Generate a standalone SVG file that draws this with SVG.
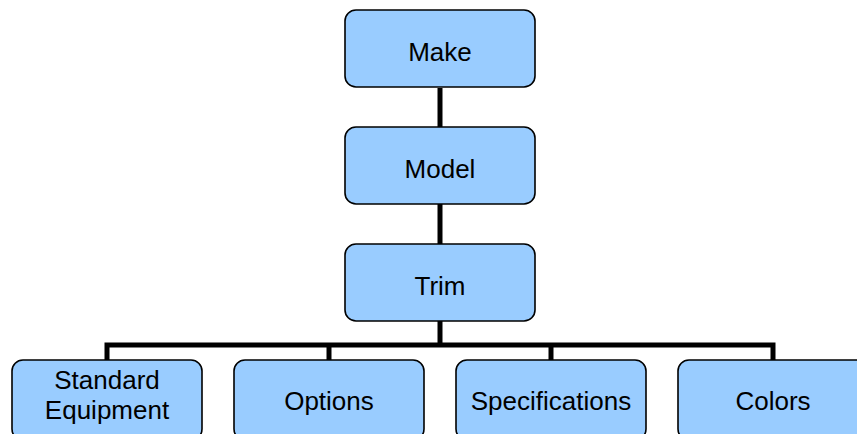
<svg xmlns="http://www.w3.org/2000/svg" width="857" height="434" viewBox="0 0 857 434">
<style>
.box{fill:#99CCFF;stroke:#000;stroke-width:1.6}
.lbl{font-family:"Liberation Sans",Arial,sans-serif;font-size:26px;fill:#000;text-anchor:middle}
.conn{stroke:#000;stroke-width:5;fill:none}
</style>
<rect width="857" height="434" fill="#fff"/>
<g id="connectors">
<line class="conn" x1="440" y1="88" x2="440" y2="127"/>
<line class="conn" x1="440" y1="204" x2="440" y2="244"/>
<line class="conn" x1="440" y1="321" x2="440" y2="345"/>
<polyline class="conn" points="107,360 107,345 773,345 773,360"/>
<line class="conn" x1="329" y1="345" x2="329" y2="360"/>
<line class="conn" x1="551" y1="345" x2="551" y2="360"/>
</g>
<g id="make"><rect class="box" x="345" y="10" width="190" height="77" rx="11"/><text class="lbl" x="440" y="61">Make</text></g>
<g id="model"><rect class="box" x="345" y="127" width="190" height="77" rx="11"/><text class="lbl" x="440" y="178">Model</text></g>
<g id="trim"><rect class="box" x="345" y="244" width="190" height="77" rx="11"/><text class="lbl" x="440" y="295">Trim</text></g>
<g id="standard"><rect class="box" x="12" y="360" width="190" height="80" rx="11"/><text class="lbl" x="107" y="389">Standard</text><text class="lbl" x="107" y="419">Equipment</text></g>
<g id="options"><rect class="box" x="234" y="360" width="190" height="80" rx="11"/><text class="lbl" x="329" y="410">Options</text></g>
<g id="specifications"><rect class="box" x="456" y="360" width="190" height="80" rx="11"/><text class="lbl" x="551" y="410">Specifications</text></g>
<g id="colors"><rect class="box" x="678" y="360" width="190" height="80" rx="11"/><text class="lbl" x="773" y="410">Colors</text></g>
</svg>
